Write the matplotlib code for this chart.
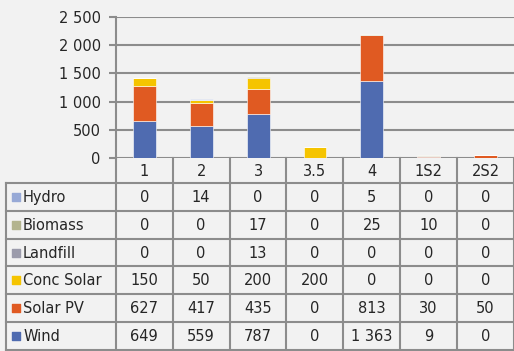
import matplotlib.pyplot as plt
import numpy as np

# Data
categories = ['1', '2', '3', '3.5', '4', '1S2', '2S2']
wind = [649, 559, 787, 0, 1363, 9, 0]
solar_pv = [627, 417, 435, 0, 813, 30, 50]
conc_solar = [150, 50, 200, 200, 0, 0, 0]
landfill = [0, 0, 13, 0, 0, 0, 0]
biomass = [0, 0, 17, 0, 25, 10, 0]
hydro = [0, 14, 0, 0, 5, 0, 0]

series = [('Wind', wind, '#4f6bb0'),
          ('Solar PV', solar_pv, '#e05a22'),
          ('Conc Solar', conc_solar, '#f5c400'),
          ('Landfill', landfill, '#9b9bab'),
          ('Biomass', biomass, '#b3b48f'),
          ('Hydro', hydro, '#97a9d6')]

bg = '#f2f2f2'
line_col = '#8c8c8c'
W, H = 514, 351

plt.rcParams['font.family'] = ['DejaVu Sans']
fig = plt.figure(figsize=(W / 100, H / 100), dpi=100, facecolor=bg)

# bar chart area (pixel positions from the reference)
ax = fig.add_axes([116 / W, (H - 158) / H, (W - 116) / W, (158 - 17) / H])
ax.set_facecolor(bg)
x = np.arange(len(categories))
bottom = np.zeros(len(categories))
for name, vals, col in series:
    ax.bar(x, vals, width=0.4, bottom=bottom, color=col,
           edgecolor='#ffffff', linewidth=0.4, zorder=3)
    bottom += np.array(vals)

ax.set_xlim(-0.5, len(categories) - 0.5)
ax.set_ylim(0, 2500)
ax.set_yticks(np.arange(0, 2501, 500))
ax.set_yticklabels([f'{v:,}'.replace(',', ' ') for v in range(0, 2501, 500)],
                   fontsize=10.5, color='#262626')
ax.tick_params(axis='y', length=5, width=1.5, color=line_col, pad=6)
ax.set_xticks([])
ax.grid(axis='y', color=line_col, linewidth=1.5, zorder=0)
for s in ['top', 'right', 'bottom']:
    ax.spines[s].set_visible(False)
ax.spines['left'].set_color(line_col)
ax.spines['left'].set_linewidth(1.5)
ax.spines['left'].set_zorder(4)

# data table below
label_w = 110 / 57  # label column width in category units
tx = fig.add_axes([6 / W, 0, (W - 6) / W, (158 - 0) / H * (H - 0) / H * H / H])
tx.set_position([6 / W, (H - 350) / H, (W - 6) / W, (350 - 158) / H])
tx.set_facecolor(bg)
tx.axis('off')
xl = -0.5 - label_w
tx.set_xlim(xl, len(categories) - 0.5)
header_h = 25
row_h = 28
total_h = header_h + row_h * len(series)
tx.set_ylim(total_h, 0)

lw = 1.5
# header row: category labels with vertical dividers
for i, c in enumerate(categories):
    tx.text(i, header_h / 2 + 1, c, ha='center', va='center', fontsize=10.5, color='#262626')
for i in range(len(categories) + 1):
    tx.plot([i - 0.5, i - 0.5], [0, total_h], color=line_col, lw=lw, clip_on=False)
# horizontal lines
tx.plot([xl, len(categories) - 0.5], [header_h, header_h], color=line_col, lw=lw, clip_on=False)
for r in range(len(series)):
    yb = header_h + row_h * (r + 1)
    tx.plot([xl, len(categories) - 0.5], [yb, yb], color=line_col, lw=lw, clip_on=False)
tx.plot([xl, xl], [header_h, total_h], color=line_col, lw=lw, clip_on=False)

# rows in legend order (top: Hydro ... bottom: Wind)
for r, (name, vals, col) in enumerate(series[::-1]):
    yc = header_h + row_h * r + row_h / 2
    tx.scatter([xl + 0.18], [yc], marker='s', s=40, color=col, clip_on=False, zorder=3)
    tx.text(xl + 0.3, yc + 0.5, name, ha='left', va='center', fontsize=10.5, color='#262626')
    for i, v in enumerate(vals):
        tx.text(i, yc + 0.5, f'{v:,}'.replace(',', ' '), ha='center', va='center',
                fontsize=10.5, color='#262626')

fig.savefig('out.png', dpi=100, facecolor=bg)
